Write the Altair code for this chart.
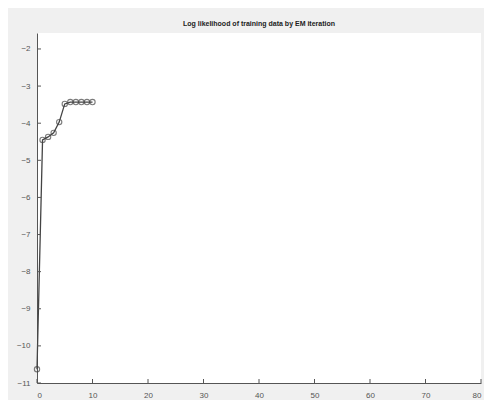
import altair as alt
import pandas as pd

iterations = [0, 1, 2, 3, 4, 5, 6, 7, 8, 9, 10]
log_likelihood = [-10.63, -4.45, -4.37, -4.26, -3.97, -3.48, -3.43, -3.43, -3.43, -3.43, -3.43]
x_ticks = [0, 10, 20, 30, 40, 50, 60, 70, 80]
y_ticks = [-11, -10, -9, -8, -7, -6, -5, -4, -3, -2]

df = pd.DataFrame({"iter": iterations, "ll": log_likelihood})
xt = pd.DataFrame({"iter": x_ticks})
yt = pd.DataFrame({"ll": y_ticks})

xscale = alt.Scale(domain=[0, 80], nice=False, zero=False)
yscale = alt.Scale(domain=[-11, -1.57], nice=False, zero=False)
xaxis = alt.Axis(values=x_ticks, title=None, grid=False, ticks=False,
                 labelFontSize=8, labelColor="#555", domainColor="#555",
                 labelPadding=8, labelOverlap=False)
yaxis = alt.Axis(values=y_ticks, title=None, grid=False, ticks=False,
                 labelFontSize=8, labelColor="#555", domainColor="#555",
                 labelPadding=7, labelOverlap=False)

base = alt.Chart(df).encode(
    x=alt.X("iter:Q", scale=xscale, axis=xaxis),
    y=alt.Y("ll:Q", scale=yscale, axis=yaxis),
)

line = base.mark_line(color="#444", strokeWidth=1.3)
pts = base.mark_point(shape="circle", size=28, color="#444", strokeWidth=1.1, filled=False)

xticks = alt.Chart(xt).mark_rule(color="#555").encode(
    x=alt.X("iter:Q", scale=xscale, axis=xaxis), y=alt.value(350), y2=alt.value(346))
yticks = alt.Chart(yt).mark_rule(color="#555").encode(
    y=alt.Y("ll:Q", scale=yscale, axis=yaxis), x=alt.value(0), x2=alt.value(4))

chart = (line + pts + xticks + yticks).properties(
    width=444, height=350,
    title=alt.TitleParams("Log likelihood of training data by EM iteration",
                          fontSize=7, fontWeight="bold", color="#222", offset=6,
                          anchor="middle"),
    autosize=alt.AutoSizeParams(type="none"),
    padding={"left": 29, "top": 25, "right": 3, "bottom": 17},
    background="#f0f0f0",
).configure(font="Liberation Sans").configure_view(fill="white", stroke=None)

chart.save("out.html", embed_options={"renderer": "svg", "actions": False})
